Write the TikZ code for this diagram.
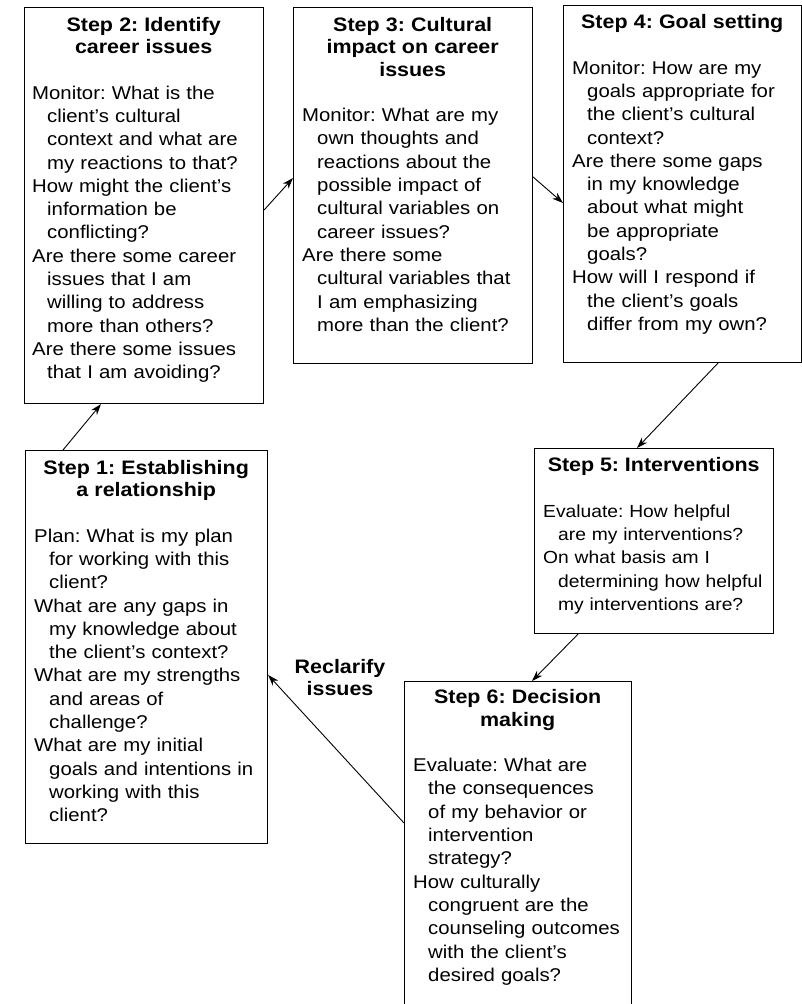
\documentclass[tikz,border=0pt]{standalone}
\usepackage{fontspec}
\setmainfont{Liberation Sans}[FakeStretch=1.1]
\usetikzlibrary{arrows.meta,positioning}
\setlength{\parindent}{0pt}
\frenchspacing

% title of a box, then one empty line
\newcommand{\steptitle}[1]{{\centering\fontsize{19.5}{22.5}\selectfont\bfseries #1\par}\vspace{22pt}}
% one question, later lines hang in
\newcommand{\stepq}[1]{{\rightskip=-40pt plus 1fil\hangindent=15pt\hangafter=1\noindent#1\par}}

\begin{document}
\begin{tikzpicture}[x=1pt, y=-1pt]

        \tikzset{
            stepbox/.style={draw, line width=1.1pt, anchor=north west, inner sep=0pt},
            steptext/.style={anchor=north west, inner sep=0pt, text width=#1,
                font=\fontsize{18.5}{23.3}\selectfont},
            flow/.style={-{Stealth[length=11pt,width=7.5pt]}, line width=0.9pt}
        }
        \useasboundingbox (0,0) rectangle (802,1004);
        \clip (0,0) rectangle (802,1004);

        % the six boxes
        \node[stepbox, minimum width=242pt, minimum height=393pt] (s1) at (25,450) {};
        \node[stepbox, minimum width=239pt, minimum height=396pt] (s2) at (24,7) {};
        \node[stepbox, minimum width=239pt, minimum height=356pt] (s3) at (293,7) {};
        \node[stepbox, minimum width=238pt, minimum height=357pt] (s4) at (563,5) {};
        \node[stepbox, minimum width=239pt, minimum height=185pt] (s5) at (534,448) {};
        \node[stepbox, minimum width=227pt, minimum height=340pt] (s6) at (404,681) {}; % runs off the page

        \node[steptext=224pt, below right=10pt and 9pt of s1.north west] (t1) {%
            \steptitle{Step 1: Establishing\par a relationship}%
            \stepq{Plan: What is my plan\newline for working with this\newline client?}%
            \stepq{What are any gaps in\newline my knowledge about\newline the client's context?}%
            \stepq{What are my strengths\newline and areas of\newline challenge?}%
            \stepq{What are my initial\newline goals and intentions in\newline working with this\newline client?}};
        \node[steptext=223pt, below right=10pt and 8pt of s2.north west] (t2) {%
            \steptitle{Step 2: Identify\par career issues}%
            \stepq{Monitor: What is the\newline client's cultural\newline context and what are\newline my reactions to that?}%
            \stepq{How might the client's\newline information be\newline conflicting?}%
            \stepq{Are there some career\newline issues that I am\newline willing to address\newline more than others?}%
            \stepq{Are there some issues\newline that I am avoiding?}};
        \node[steptext=221pt, below right=10pt and 9pt of s3.north west] (t3) {%
            \steptitle{Step 3: Cultural\par impact on career\par issues}%
            \stepq{Monitor: What are my\newline own thoughts and\newline reactions about the\newline possible impact of\newline cultural variables on\newline career issues?}%
            \stepq{Are there some\newline cultural variables that\newline I am emphasizing\newline more than the client?}};
        \node[steptext=220pt, below right=9.5pt and 9pt of s4.north west] (t4) {%
            \steptitle{Step 4: Goal setting}%
            \stepq{Monitor: How are my\newline goals appropriate for\newline the client's cultural\newline context?}%
            \stepq{Are there some gaps\newline in my knowledge\newline about what might\newline be appropriate\newline goals?}%
            \stepq{How will I respond if\newline the client's goals\newline differ from my own?}};
        \node[steptext=221pt, font=\fontsize{17.5}{23.3}\selectfont,
            below right=9.5pt and 9pt of s5.north west] (t5) {%
            \steptitle{Step 5: Interventions}%
            \stepq{Evaluate: How helpful\newline are my interventions?}%
            \stepq{On what basis am I\newline determining how helpful\newline my interventions are?}};
        \node[steptext=209pt, below right=8.5pt and 9pt of s6.north west] (t6) {%
            \steptitle{Step 6: Decision\par making}%
            \stepq{Evaluate: What are\newline the consequences\newline of my behavior or\newline intervention\newline strategy?}%
            \stepq{How culturally\newline congruent are the\newline counseling outcomes\newline with the client's\newline desired goals?}};

        % connectors
        \draw[flow] ([xshift=38pt]s1.north west) -- ([xshift=77pt]s2.south west);
        \draw[flow] ([yshift=-203pt]s2.north east) -- ([yshift=-171pt]s3.north west);
        \draw[flow] ([yshift=-170pt]s3.north east) -- ([yshift=-198pt]s4.north west);
        \draw[flow] ([xshift=155pt]s4.south west) -- ([xshift=103pt]s5.north west);
        \draw[flow] ([xshift=44pt]s5.south west) -- ([xshift=128pt]s6.north west);
        \draw[flow] ([yshift=-142pt]s6.north west) -- ([yshift=-225pt]s1.north east);
        \node[font=\fontsize{19.5}{22}\selectfont\bfseries, align=center] (lbl) at (340,678) {Reclarify\\issues};
\end{tikzpicture}
\end{document}
